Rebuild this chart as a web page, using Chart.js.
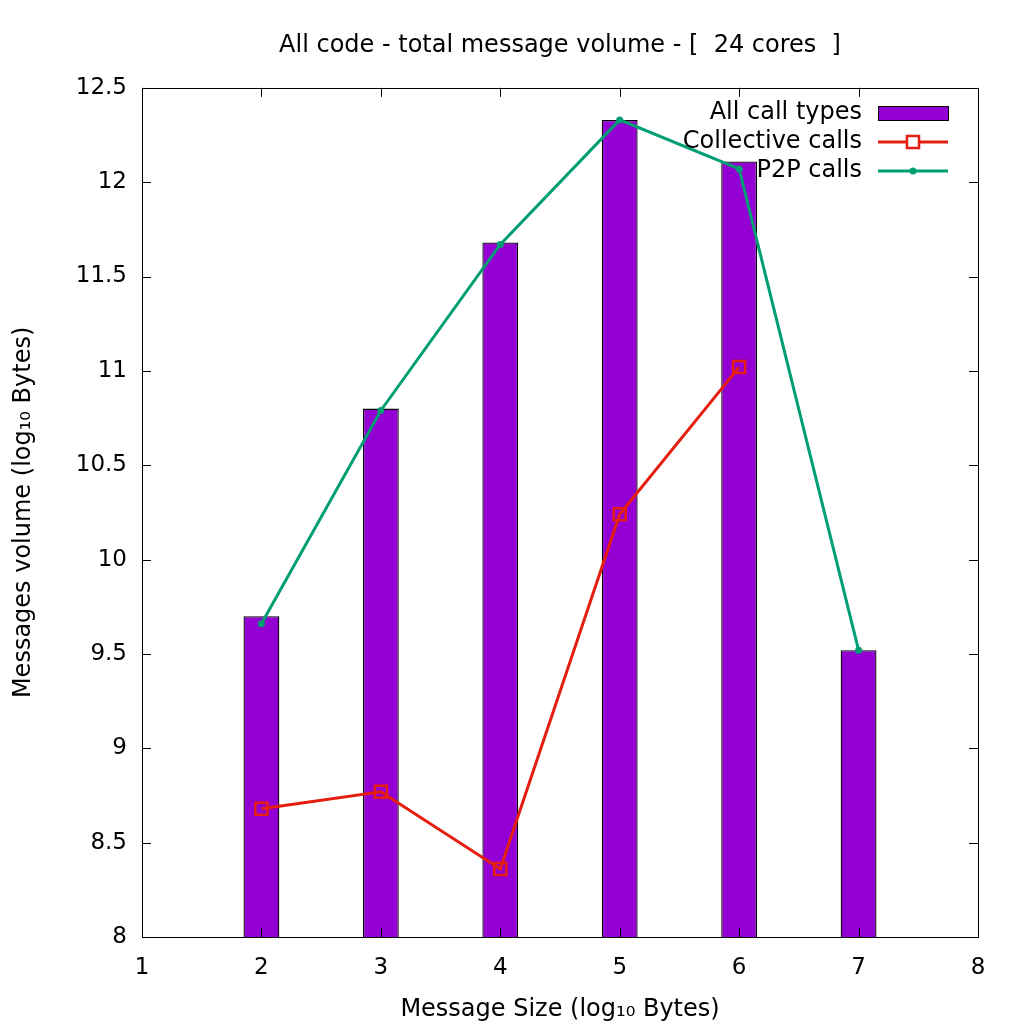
<!DOCTYPE html>
<html>
<head>
<meta charset="utf-8">
<title>All code - total message volume</title>
<script src="https://cdn.jsdelivr.net/npm/chart.js@4.4.0/dist/chart.umd.min.js"></script>
<style>
  html, body { margin: 0; padding: 0; background: #fff; }
</style>
</head>
<body>
<canvas id="chart" width="1024" height="1024"></canvas>
<script>
// ---- data ----
const sizes = [2, 3, 4, 5, 6, 7];
const allCalls = [9.70, 10.80, 11.68, 12.33, 12.11, 9.52];
const collSizes = [2, 3, 4, 5, 6];
const collective = [8.68, 8.77, 8.36, 10.24, 11.02];
const p2pSizes = [2, 3, 4, 5, 6, 7];
const p2p = [9.66, 10.79, 11.67, 12.33, 12.07, 9.52];
const xTicks = [1, 2, 3, 4, 5, 6, 7, 8];
const yTicks = [8, 8.5, 9, 9.5, 10, 10.5, 11, 11.5, 12, 12.5];

const FONT = "'DejaVu Sans', Verdana, sans-serif";
const PURPLE = "#9400D3";
const RED = "#E51E10";
const GREEN = "#009E73";

const toPoints = (xs, ys) => xs.map((x, i) => ({ x: x, y: ys[i] }));

// gnuplot style frame with inward ticks on all four sides
const frameTicks = {
  id: "frameTicks",
  afterDatasetsDraw(chart) {
    const { ctx, chartArea: { left, right, top, bottom }, scales: { x, y } } = chart;
    ctx.save();
    ctx.strokeStyle = "#000";
    ctx.lineWidth = 1;
    ctx.beginPath();
    x.ticks.forEach(t => {
      const px = Math.round(x.getPixelForValue(t.value)) + 0.5;
      ctx.moveTo(px, bottom); ctx.lineTo(px, bottom - 9);
      ctx.moveTo(px, top); ctx.lineTo(px, top + 9);
    });
    y.ticks.forEach(t => {
      const py = Math.round(y.getPixelForValue(t.value)) + 0.5;
      ctx.moveTo(left, py); ctx.lineTo(left + 9, py);
      ctx.moveTo(right, py); ctx.lineTo(right - 9, py);
    });
    ctx.stroke();
    ctx.strokeRect(Math.round(left) + 0.5, Math.round(top) + 0.5,
      Math.round(right - left), Math.round(bottom - top));
    ctx.restore();
  }
};

// legend in the top right corner: text right aligned, sample on the right
const keyLegend = {
  id: "keyLegend",
  afterDraw(chart) {
    const { ctx } = chart;
    const textRight = 862, x0 = 878, x1 = 948, mid = (x0 + x1) / 2;
    ctx.save();
    ctx.font = "24px " + FONT;
    ctx.textAlign = "right";
    ctx.textBaseline = "middle";
    chart.data.datasets.forEach((ds, i) => {
      const yc = 113 + i * 29;
      ctx.fillStyle = "#000";
      ctx.fillText(ds.label, textRight, yc);
      if (ds.type === "bar") {
        ctx.fillStyle = ds.backgroundColor;
        ctx.fillRect(x0, yc - 7, x1 - x0, 14);
        ctx.strokeStyle = "#000";
        ctx.lineWidth = 1;
        ctx.strokeRect(x0 + 0.5, yc - 7 + 0.5, x1 - x0, 14);
      } else {
        ctx.strokeStyle = ds.borderColor;
        ctx.lineWidth = ds.borderWidth;
        ctx.beginPath();
        ctx.moveTo(x0, yc); ctx.lineTo(x1, yc);
        ctx.stroke();
        if (ds.pointStyle === "rect") {
          const s = ds.pointRadius * Math.SQRT1_2;
          ctx.lineWidth = ds.pointBorderWidth;
          ctx.fillStyle = "#fff";
          ctx.fillRect(mid - s, yc - s, 2 * s, 2 * s);
          ctx.strokeRect(mid - s, yc - s, 2 * s, 2 * s);
        } else {
          ctx.fillStyle = ds.borderColor;
          ctx.beginPath();
          ctx.arc(mid, yc, ds.pointRadius, 0, Math.PI * 2);
          ctx.fill();
        }
      }
    });
    ctx.restore();
  }
};

const tickFont = { family: FONT, size: 23 };
const labelFont = { family: FONT, size: 24 };

new Chart(document.getElementById("chart"), {
  type: "bar",
  data: {
    datasets: [
      {
        type: "bar",
        label: "All call types",
        data: toPoints(sizes, allCalls),
        backgroundColor: PURPLE,
        borderColor: "#000",
        borderWidth: 1.3,
        borderSkipped: false,
        barPercentage: 0.3,
        categoryPercentage: 1,
        order: 3
      },
      {
        type: "line",
        label: "Collective calls",
        data: toPoints(collSizes, collective),
        borderColor: RED,
        borderWidth: 3,
        tension: 0,
        pointStyle: "rect",
        pointRadius: 8.5,
        pointBorderWidth: 2.5,
        pointBorderColor: RED,
        pointBackgroundColor: "rgba(0,0,0,0)",
        order: 2
      },
      {
        type: "line",
        label: "P2P calls",
        data: toPoints(p2pSizes, p2p),
        borderColor: GREEN,
        borderWidth: 3,
        tension: 0,
        pointStyle: "circle",
        pointRadius: 3.5,
        pointBorderWidth: 0,
        pointBackgroundColor: GREEN,
        order: 1
      }
    ]
  },
  options: {
    responsive: false,
    animation: false,
    layout: { padding: { left: 0, right: 46, top: 0, bottom: 0 } },
    plugins: {
      legend: { display: false },
      tooltip: { enabled: false },
      title: {
        display: true,
        text: "All code - total message volume - [  24 cores  ]",
        fullSize: false,
        color: "#000",
        font: { family: FONT, size: 24, weight: "normal" },
        padding: { top: 31, bottom: 28 }
      }
    },
    scales: {
      x: {
        type: "linear",
        min: 1,
        max: 8,
        offset: false,
        grid: { display: false, drawTicks: false },
        border: { display: false },
        ticks: { color: "#000", font: tickFont, padding: 17, maxRotation: 0, callback: v => String(v) },
        afterBuildTicks: s => { s.ticks = xTicks.map(v => ({ value: v })); },
        afterFit: s => { s.height = 87; },
        title: {
          display: true,
          text: "Message Size (log₁₀ Bytes)",
          color: "#000",
          font: labelFont,
          padding: { top: 0, bottom: 0 }
        }
      },
      y: {
        type: "linear",
        min: 8,
        max: 12.5,
        beginAtZero: false,
        grid: { display: false, drawTicks: false },
        border: { display: false },
        ticks: { color: "#000", font: tickFont, padding: 15, callback: v => String(v) },
        afterBuildTicks: s => { s.ticks = yTicks.map(v => ({ value: v })); },
        afterFit: s => { s.width = 142; },
        title: {
          display: true,
          text: "Messages volume (log₁₀ Bytes)",
          color: "#000",
          font: labelFont,
          padding: { top: 9, bottom: 0 }
        }
      }
    }
  },
  plugins: [frameTicks, keyLegend]
});
</script>
</body>
</html>
